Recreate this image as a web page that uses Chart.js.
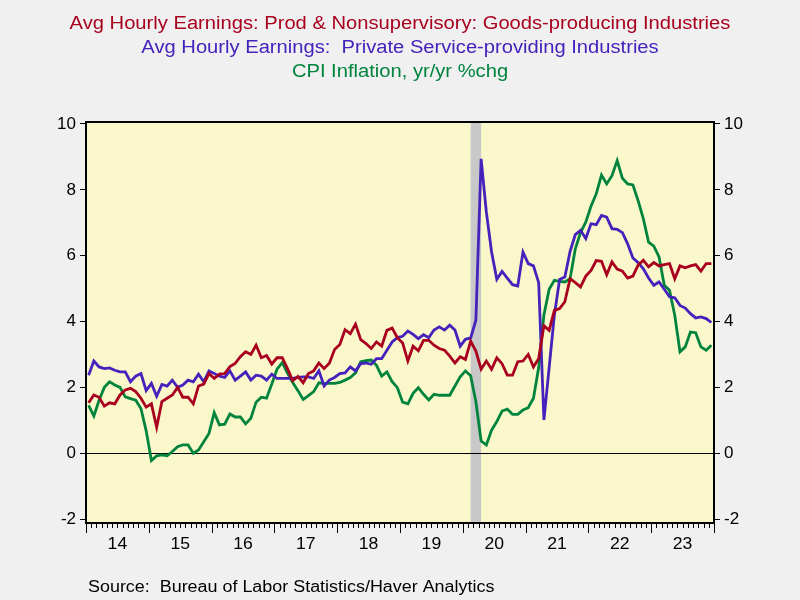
<!DOCTYPE html>
<html>
<head>
<meta charset="utf-8">
<title>Earnings vs CPI</title>
<script src="https://cdn.jsdelivr.net/npm/chart.js@4.4.0/dist/chart.umd.min.js"></script>
<style>
    body { margin: 0; background: #F0F0F0; }
    #wrap { width: 800px; height: 600px; }
</style>
</head>
<body>
<div id="wrap"><canvas id="chart" width="800" height="600"></canvas></div>
<script>
// Monthly data, Jan 2014 - Dec 2023 (index 0 = Jan 2014)
const startYear = 2014;
const yearLabels = ['14', '15', '16', '17', '18', '19', '20', '21', '22', '23'];

// Avg Hourly Earnings: Prod & Nonsupervisory: Goods-producing Industries (yr/yr %)
const goodsEarnings = [
    1.53, 1.77, 1.70, 1.43, 1.53, 1.50, 1.77, 1.92, 1.97, 1.87, 1.67, 1.40,
    1.50, 0.79, 1.57, 1.67, 1.77, 2.00, 1.70, 1.70, 1.50, 2.04, 2.10, 2.42,
    2.27, 2.40, 2.42, 2.63, 2.73, 2.93, 3.08, 3.00, 3.28, 2.90, 2.97, 2.71,
    2.90, 2.90, 2.57, 2.20, 2.33, 2.14, 2.42, 2.50, 2.74, 2.57, 2.73, 3.15,
    3.30, 3.75, 3.63, 3.92, 3.45, 3.33, 3.18, 3.38, 3.25, 3.73, 3.80, 3.51,
    3.35, 2.80, 3.25, 3.11, 3.43, 3.43, 3.28, 3.18, 3.13, 2.95, 2.74, 2.93,
    2.85, 3.40, 3.10, 2.55, 2.80, 2.55, 2.90, 2.72, 2.37, 2.37, 2.78, 2.80,
    3.00, 2.62, 2.88, 3.87, 3.73, 4.34, 4.39, 4.60, 5.30, 5.18, 5.05, 5.38,
    5.55, 5.85, 5.83, 5.42, 5.81, 5.59, 5.53, 5.32, 5.38, 5.71, 5.86, 5.66,
    5.79, 5.69, 5.73, 5.76, 5.30, 5.69, 5.63, 5.69, 5.73, 5.53, 5.76, 5.76
];

// Avg Hourly Earnings: Private Service-providing Industries (yr/yr %)
const serviceEarnings = [
    2.37, 2.80, 2.62, 2.57, 2.59, 2.52, 2.47, 2.47, 2.17, 2.34, 2.42, 1.90,
    2.12, 1.73, 2.09, 2.04, 2.22, 2.00, 2.07, 2.22, 2.17, 2.40, 2.17, 2.50,
    2.42, 2.34, 2.30, 2.50, 2.22, 2.34, 2.47, 2.22, 2.37, 2.34, 2.22, 2.40,
    2.27, 2.27, 2.27, 2.27, 2.30, 2.32, 2.32, 2.27, 2.50, 2.04, 2.22, 2.30,
    2.42, 2.44, 2.62, 2.50, 2.72, 2.74, 2.70, 2.87, 2.87, 3.13, 3.38, 3.51,
    3.55, 3.71, 3.61, 3.48, 3.60, 3.51, 3.74, 3.84, 3.74, 3.89, 3.74, 3.25,
    3.46, 3.50, 4.04, 8.94, 7.32, 6.11, 5.28, 5.52, 5.32, 5.12, 5.08, 6.11,
    5.76, 5.69, 5.18, 1.01, 2.60, 4.20, 5.28, 5.35, 6.13, 6.64, 6.77, 6.52,
    6.97, 6.94, 7.22, 7.17, 6.82, 6.80, 6.70, 6.36, 5.93, 5.79, 5.60, 5.32,
    5.10, 5.20, 4.98, 4.75, 4.72, 4.49, 4.41, 4.24, 4.11, 4.14, 4.09, 3.97
];

// CPI Inflation, yr/yr %chg
const cpiInflation = [
    1.45, 1.13, 1.61, 2.00, 2.17, 2.07, 2.00, 1.71, 1.66, 1.61, 1.36, 0.68,
    -0.22, -0.08, -0.05, -0.08, 0.05, 0.20, 0.25, 0.25, 0.00, 0.10, 0.35, 0.60,
    1.23, 0.86, 0.88, 1.19, 1.10, 1.10, 0.89, 1.06, 1.55, 1.70, 1.67, 2.10,
    2.55, 2.75, 2.43, 2.15, 1.90, 1.63, 1.75, 1.87, 2.14, 2.12, 2.12, 2.12,
    2.15, 2.22, 2.30, 2.44, 2.78, 2.81, 2.83, 2.67, 2.34, 2.47, 2.17, 1.99,
    1.55, 1.50, 1.82, 1.99, 1.79, 1.62, 1.79, 1.76, 1.76, 1.76, 2.04, 2.32,
    2.50, 2.35, 1.56, 0.37, 0.25, 0.70, 0.96, 1.28, 1.34, 1.18, 1.18, 1.31,
    1.38, 1.67, 2.60, 4.20, 4.98, 5.25, 5.22, 5.20, 5.30, 6.21, 6.70, 7.02,
    7.50, 7.88, 8.45, 8.18, 8.43, 8.89, 8.35, 8.18, 8.15, 7.67, 7.12, 6.41,
    6.29, 5.96, 5.10, 4.95, 4.19, 3.08, 3.23, 3.68, 3.66, 3.23, 3.13, 3.28
];

// NBER recession (first and last month)
const recession = ['2020-02', '2020-04'];

const yTicks = [-2, 0, 2, 4, 6, 8, 10];

const titleLines = [
    { text: 'Avg Hourly Earnings: Prod & Nonsupervisory: Goods-producing Industries', color: '#A8001E' },
    { text: 'Avg Hourly Earnings:  Private Service-providing Industries', color: '#4422BB' },
    { text: 'CPI Inflation, yr/yr %chg', color: '#00843D' }
];
const sourceText = 'Source:  Bureau of Labor Statistics/Haver Analytics';

const FONT = '"Liberation Sans", Arial, sans-serif';

// month index -> x value (points sit mid-month)
function toPoints(values) {
    return values.map((v, i) => ({ x: i + 0.5, y: v }));
}

function monthIndex(str) {
    const parts = str.split('-');
    return (parseInt(parts[0]) - startYear) * 12 + parseInt(parts[1]) - 1;
}

// the original font runs a little wider than Liberation Sans
function wideText(c, text, x, y, stretch) {
    c.save();
    c.translate(x, y);
    c.scale(stretch, 1);
    c.fillText(text, 0, 0);
    c.restore();
}

// Background, recession band, frame, x axis ticks and titles
const decorPlugin = {
    id: 'decor',
    beforeDraw(chart) {
        const c = chart.ctx;
        const a = chart.chartArea;
        const x = chart.scales.x;
        c.save();
        c.fillStyle = '#FAF8CB';
        c.fillRect(a.left, a.top, a.right - a.left, a.bottom - a.top);
        const r0 = x.getPixelForValue(monthIndex(recession[0]) + 0.5);
        const r1 = x.getPixelForValue(monthIndex(recession[1]) + 0.5);
        c.fillStyle = '#C8C8C8';
        c.fillRect(r0, a.top, r1 - r0, a.bottom - a.top);
        c.restore();
    },
    afterDraw(chart) {
        const c = chart.ctx;
        const a = chart.chartArea;
        const x = chart.scales.x;
        c.save();

        // frame
        c.strokeStyle = '#000';
        c.lineWidth = 2;
        c.strokeRect(a.left, a.top, a.right - a.left, a.bottom - a.top);

        // month and year ticks
        c.lineWidth = 1;
        c.beginPath();
        for (let m = 0; m <= yearLabels.length * 12; m++) {
            const px = Math.round(x.getPixelForValue(m)) + 0.5;
            const len = m % 12 === 0 ? 10 : 5;
            c.moveTo(px, a.bottom);
            c.lineTo(px, a.bottom + len);
        }
        c.stroke();

        // year labels
        c.fillStyle = '#000';
        c.font = '16px ' + FONT;
        c.textAlign = 'center';
        c.textBaseline = 'middle';
        yearLabels.forEach((lbl, i) => {
            wideText(c, lbl, x.getPixelForValue(i * 12 + 6), a.bottom + 22, 1.1);
        });

        // titles
        c.font = '18px ' + FONT;
        titleLines.forEach((t, i) => {
            c.fillStyle = t.color;
            wideText(c, t.text, 400, 24 + i * 24, 1.12);
        });

        // source
        c.fillStyle = '#000';
        c.font = '16px ' + FONT;
        c.textAlign = 'left';
        wideText(c, sourceText, 88, 588, 1.12);
        c.restore();
    }
};

function yAxis(position) {
    return {
        type: 'linear',
        position: position,
        min: -2.12,
        max: 10.06,
        afterBuildTicks: (scale) => { scale.ticks = yTicks.map(v => ({ value: v })); },
        afterFit: (scale) => { scale.width = 86; },
        border: { display: false },
        grid: {
            drawOnChartArea: position === 'left',
            color: (ctx) => ctx.tick && ctx.tick.value === 0 ? '#000' : 'rgba(0,0,0,0)',
            tickColor: '#000',
            tickLength: 6,
            lineWidth: 1
        },
        ticks: {
            color: '#000',
            padding: 4,
            font: { size: 17, family: FONT }
        }
    };
}

const ctx = document.getElementById('chart').getContext('2d');
const chart = new Chart(ctx, {
    type: 'line',
    data: {
        datasets: [
            {
                label: 'Goods-producing',
                data: toPoints(goodsEarnings),
                borderColor: '#A8001E',
                borderWidth: 2.8,
                pointRadius: 0,
                tension: 0
            },
            {
                label: 'Service-providing',
                data: toPoints(serviceEarnings),
                borderColor: '#4422BB',
                borderWidth: 2.8,
                pointRadius: 0,
                tension: 0
            },
            {
                label: 'CPI',
                data: toPoints(cpiInflation),
                borderColor: '#00843D',
                borderWidth: 2.8,
                pointRadius: 0,
                tension: 0
            }
        ]
    },
    options: {
        responsive: false,
        animation: false,
        layout: { padding: { left: 0, right: 0, top: 122, bottom: 77 } },
        plugins: {
            legend: { display: false },
            tooltip: { enabled: false }
        },
        scales: {
            x: {
                type: 'linear',
                display: false,
                min: 0,
                max: yearLabels.length * 12
            },
            y: yAxis('left'),
            y2: yAxis('right')
        }
    },
    plugins: [decorPlugin]
});
</script>
</body>
</html>
